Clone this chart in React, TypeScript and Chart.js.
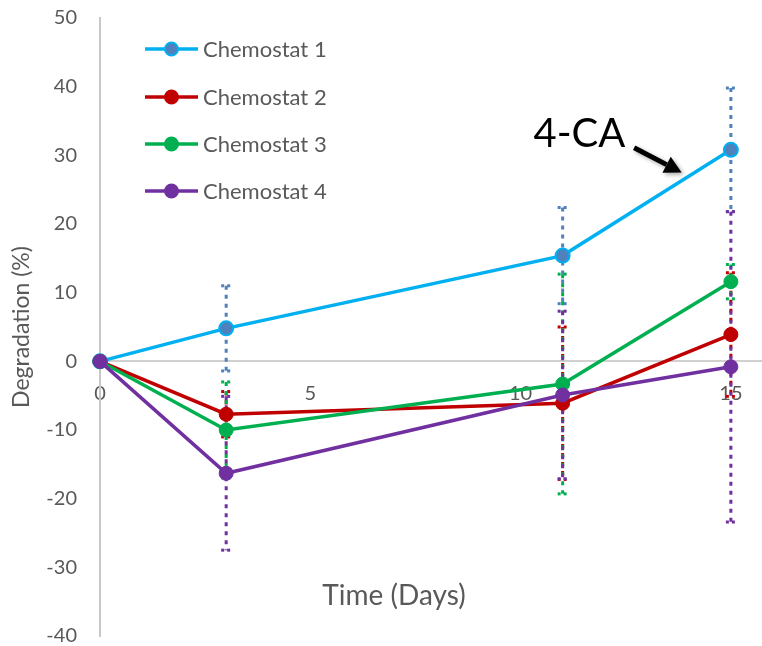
import React, { useEffect, useRef } from "react";
import { Chart, registerables } from "chart.js";

Chart.register(...registerables);

// ---- data ----
const days = [0, 3, 11, 15];
const seriesNames = ["Chemostat 1", "Chemostat 2", "Chemostat 3", "Chemostat 4"];
const chemostat1 = [0, 4.8, 15.4, 30.8];
const chemostat2 = [0, -7.7, -6.1, 3.9];
const chemostat3 = [0, -10.0, -3.3, 11.6];
const chemostat4 = [0, -16.3, -4.9, -0.8];
const error1 = [0, 6.2, 7.0, 9.0];
const error2 = [0, 3.3, 11.1, 9.0];
const error3 = [0, 7.0, 16.0, 2.5];
const error4 = [0, 11.2, 12.2, 22.6];
const xTickValues = [0, 5, 10, 15];
const yMin = -40;
const yMax = 50;
const yStep = 10;
const xMax = 15.74;
const annotationText = "4-CA";
const xTitle = "Time (Days)";
const yTitle = "Degradation (%)";

const lineColors = ["#00B0F0", "#C00000", "#00B050", "#7030A0"];
const markerFill = ["#4F81BD", "#C00000", "#00B050", "#7030A0"];
const errorColors = ["#4F81BD", "#C00000", "#00B050", "#7030A0"];
const seriesValues = [chemostat1, chemostat2, chemostat3, chemostat4];
const seriesErrors = [error1, error2, error3, error4];

const FONT = "Lato, 'Open Sans', sans-serif";
// target plot area in pixels
const AREA = { left: 100, top: 18, right: 762, bottom: 636 };

export default function App() {
  const ref = useRef<HTMLCanvasElement>(null);

  useEffect(() => {
    if (!ref.current) return;

    const errorBars = {
      id: "errorBars",
      beforeDatasetsDraw(chart: any) {
        const ctx = chart.ctx;
        const xs = chart.scales.x;
        const ys = chart.scales.y;
        seriesValues.forEach((vals, i) => {
          const errs = seriesErrors[i];
          ctx.save();
          ctx.strokeStyle = errorColors[i];
          ctx.lineWidth = 3;
          ctx.lineCap = "butt";
          days.forEach((d, j) => {
            const e = errs[j];
            if (!e) return;
            const px = xs.getPixelForValue(d);
            const top = ys.getPixelForValue(vals[j] + e);
            const bot = ys.getPixelForValue(vals[j] - e);
            ctx.setLineDash([4, 5]);
            ctx.beginPath();
            ctx.moveTo(px, top);
            ctx.lineTo(px, bot);
            ctx.stroke();
            ctx.setLineDash([3, 3]);
            [top, bot].forEach((py) => {
              ctx.beginPath();
              ctx.moveTo(px - 5, py);
              ctx.lineTo(px + 5, py);
              ctx.stroke();
            });
          });
          ctx.restore();
        });
      },
    };

    const overlay = {
      id: "overlay",
      afterDraw(chart: any) {
        const ctx = chart.ctx;
        const xs = chart.scales.x;
        const ys = chart.scales.y;
        ctx.save();
        // legend
        const rows = [49, 97, 144, 191];
        seriesNames.forEach((name, i) => {
          const y = rows[i];
          ctx.strokeStyle = lineColors[i];
          ctx.lineWidth = 3.5;
          ctx.setLineDash([]);
          ctx.beginPath();
          ctx.moveTo(145, y);
          ctx.lineTo(198, y);
          ctx.stroke();
          ctx.beginPath();
          ctx.arc(171.5, y, 6.5, 0, Math.PI * 2);
          ctx.fillStyle = markerFill[i];
          ctx.fill();
          ctx.lineWidth = 2;
          ctx.strokeStyle = lineColors[i];
          ctx.stroke();
          ctx.fillStyle = "#595959";
          ctx.font = `22px ${FONT}`;
          ctx.textAlign = "left";
          ctx.textBaseline = "middle";
          ctx.fillText(name, 203, y + 1);
        });
        // x title
        ctx.fillStyle = "#595959";
        ctx.font = `28px ${FONT}`;
        ctx.textAlign = "center";
        ctx.textBaseline = "middle";
        ctx.fillText(xTitle, 394, 596);
        // annotation
        ctx.fillStyle = "#000000";
        ctx.font = `40px ${FONT}`;
        ctx.fillText(annotationText, xs.getPixelForValue(11.4), ys.getPixelForValue(33.1));
        const x0 = xs.getPixelForValue(12.7);
        const y0 = ys.getPixelForValue(31.1);
        const x1 = xs.getPixelForValue(13.83);
        const y1 = ys.getPixelForValue(27.5);
        const ang = Math.atan2(y1 - y0, x1 - x0);
        const headLen = 17;
        const headW = 9;
        const bx = x1 - headLen * Math.cos(ang);
        const by = y1 - headLen * Math.sin(ang);
        ctx.shadowColor = "rgba(0,0,0,0.35)";
        ctx.shadowBlur = 4;
        ctx.shadowOffsetX = 2;
        ctx.shadowOffsetY = 2;
        ctx.strokeStyle = "#000000";
        ctx.lineWidth = 5;
        ctx.beginPath();
        ctx.moveTo(x0, y0);
        ctx.lineTo(bx, by);
        ctx.stroke();
        ctx.beginPath();
        ctx.moveTo(x1, y1);
        ctx.lineTo(bx + headW * Math.sin(ang), by - headW * Math.cos(ang));
        ctx.lineTo(bx - headW * Math.sin(ang), by + headW * Math.cos(ang));
        ctx.closePath();
        ctx.fillStyle = "#000000";
        ctx.fill();
        ctx.restore();
      },
    };

    const padding = { top: 18, bottom: 10, left: 0, right: 0 };

    const chart = new Chart(ref.current, {
      type: "line",
      data: {
        datasets: seriesValues.map((vals, i) => ({
          label: seriesNames[i],
          data: vals.map((v, j) => ({ x: days[j], y: v })),
          borderColor: lineColors[i],
          backgroundColor: markerFill[i],
          borderWidth: 3.5,
          pointRadius: 7,
          pointBackgroundColor: markerFill[i],
          pointBorderColor: lineColors[i],
          pointBorderWidth: i === 0 ? 2 : 1,
          tension: 0,
          fill: false,
          clip: false as any,
          order: 4 - i,
        })),
      },
      options: {
        responsive: false,
        animation: false,
        events: [],
        layout: { padding, autoPadding: false },
        plugins: {
          legend: { display: false },
          tooltip: { enabled: false },
        },
        scales: {
          x: {
            type: "linear",
            position: { y: 0 } as any,
            min: 0,
            max: xMax,
            afterFit: (s: any) => {
              s.height = 0;
              s.paddingLeft = 0;
              s.paddingRight = 0;
              s.paddingTop = 0;
              s.paddingBottom = 0;
            },
            afterBuildTicks: (s: any) => {
              s.ticks = xTickValues.map((v) => ({ value: v }));
            },
            grid: { display: false, drawTicks: false },
            border: { display: true, color: "#d0d0d0", width: 2 },
            ticks: {
              color: "#595959",
              font: { family: FONT, size: 20 },
              padding: 20,
              maxRotation: 0,
              includeBounds: false,
            },
          },
          y: {
            type: "linear",
            position: "left",
            min: yMin,
            max: yMax,
            afterFit: (s: any) => {
              s.width = 100;
              s.paddingTop = 0;
              s.paddingBottom = 0;
            },
            grid: { display: false, drawTicks: false },
            border: { display: true, color: "#c8c8c8", width: 2 },
            ticks: {
              stepSize: yStep,
              color: "#595959",
              font: { family: FONT, size: 20, lineHeight: 1.0 },
              padding: 23,
            },
            title: {
              display: true,
              text: yTitle,
              color: "#595959",
              font: { family: FONT, size: 23 },
              padding: { top: 8, bottom: 0 },
            },
          },
        },
      },
      plugins: [errorBars, overlay],
    });

    // nudge layout padding until the plot area sits where the reference has it
    for (let k = 0; k < 6; k++) {
      const ca = chart.chartArea;
      const dTop = AREA.top - ca.top;
      const dBottom = ca.bottom - AREA.bottom;
      const dLeft = AREA.left - ca.left;
      const dRight = ca.right - AREA.right;
      if (Math.abs(dTop) + Math.abs(dBottom) + Math.abs(dLeft) + Math.abs(dRight) < 0.5) break;
      padding.top += dTop;
      padding.bottom += dBottom;
      padding.left += dLeft;
      padding.right += dRight;
      (chart.options.layout as any).padding = { ...padding };
      chart.update();
    }

    return () => chart.destroy();
  }, []);

  return (
    <div style={{ position: "absolute", left: 0, top: 0, width: 762, height: 646, background: "#fff" }}>
      <canvas ref={ref} width={762} height={646} />
    </div>
  );
}
